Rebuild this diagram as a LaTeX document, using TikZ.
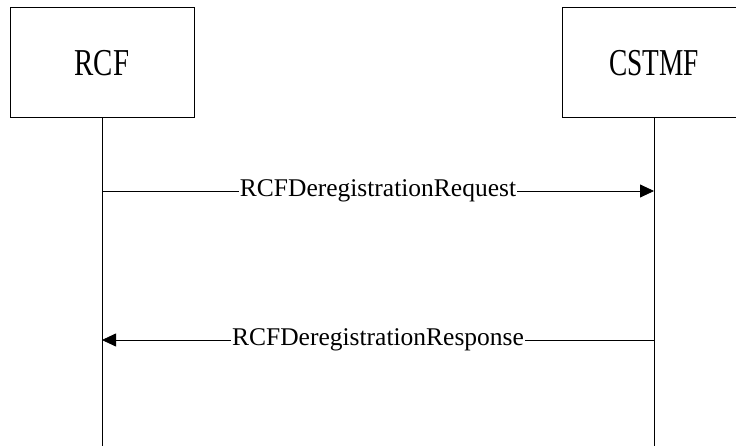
\documentclass[tikz,border=0pt]{standalone}
\usepackage{fontspec}
\setmainfont{Liberation Serif}
\usetikzlibrary{arrows.meta,positioning}

\begin{document}
\begin{tikzpicture}[x=1pt,y=-1pt,
	entity/.style={draw,line width=1pt,minimum width=184pt,minimum height=110pt,inner sep=0pt},
	msg/.style={line width=0.8pt,-{Triangle[length=14pt,width=13pt]}},
	msglabel/.style={fill=white,inner sep=1pt,font=\fontsize{25.5}{28}\selectfont}]
	\useasboundingbox (0,0) rectangle (736,446);
	\clip (0,0) rectangle (736,446);
	\node[entity] (rcf) at (102,63) {\fontsize{38}{40}\selectfont\scalebox{0.76}[1]{RCF}};
	\node[entity] (cstmf) at (654,63) {\fontsize{38}{40}\selectfont\scalebox{0.72}[1]{CSTMF}};
	% lifelines
	\coordinate (rcfend) at (102,446);
	\coordinate (cstmfend) at (654,446);
	\draw[line width=0.8pt] (rcf.south) -- (rcfend);
	\draw[line width=0.8pt] (cstmf.south) -- (cstmfend);
	% messages
	\coordinate (reqa) at (rcf.south |- 0,191);
	\coordinate (reqb) at (cstmf.south |- 0,191);
	\coordinate (resa) at (rcf.south |- 0,340);
	\coordinate (resb) at (cstmf.south |- 0,340);
	\draw[msg] (reqa) -- node[msglabel]{RCFDeregistrationRequest} (reqb);
	\draw[msg] (resb) -- node[msglabel]{RCFDeregistrationResponse} (resa);
\end{tikzpicture}
\end{document}
